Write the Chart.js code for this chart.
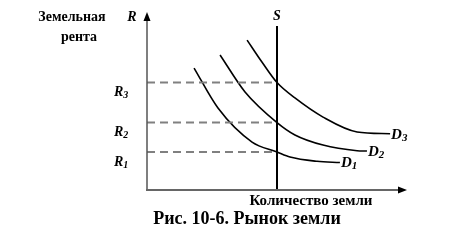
<!DOCTYPE html>
<html>
<head>
<meta charset="utf-8">
<script src="https://cdn.jsdelivr.net/npm/chart.js@4"></script>
<style>
html,body{margin:0;padding:0;background:#fff;}
#wrap{width:468px;height:250px;position:relative;}
</style>
</head>
<body>
<div id="wrap"><canvas id="c" width="468" height="250"></canvas></div>
<script>
// ---- data (arbitrary units: quantity 0..100, rent 0..100) ----
const d1Q = [18.1, 27.3, 40.4, 50.0, 55.0, 65.4, 74.2];
const d1R = [68.9, 46.3, 27.1, 21.5, 18.6, 16.2, 15.5];
const d2Q = [28.1, 37.7, 50.0, 56.9, 67.7, 80.8, 84.6];
const d2R = [76.3, 55.4, 38.1, 31.1, 25.4, 22.2, 22.0];
const d3Q = [38.5, 44.2, 50.0, 56.9, 67.7, 80.8, 93.5];
const d3R = [84.7, 72.3, 60.7, 52.0, 41.2, 32.8, 31.8];
const curveNames = ['D', 'D', 'D'];
const curveSubs = ['1', '2', '3'];
const supplyQ = 50;
const supplyTop = 92.7;
const rentLevels = [21.5, 38.1, 60.7];
const rentSubs = ['1', '2', '3'];
const yAxisTitle = ['Земельная', 'рента'];
const xAxisTitle = 'Количество земли';
const caption = 'Рис. 10-6. Рынок земли';

const pts = (qs, rs) => qs.map((q, i) => ({x: q, y: rs[i]}));
const FONT = "'Liberation Serif', 'Times New Roman', serif";

const datasets = [];
rentLevels.forEach(r => datasets.push({
  data: [{x: 0, y: r}, {x: supplyQ, y: r}],
  borderColor: '#808080', borderWidth: 2, borderDash: [8, 5],
  pointRadius: 0, showLine: true, tension: 0
}));
datasets.push({
  data: [{x: supplyQ, y: 0}, {x: supplyQ, y: supplyTop}],
  borderColor: '#000', borderWidth: 2, pointRadius: 0, showLine: true, tension: 0
});
[[d1Q, d1R], [d2Q, d2R], [d3Q, d3R]].forEach(([q, r]) => datasets.push({
  data: pts(q, r), borderColor: '#000', borderWidth: 1.6, pointRadius: 0,
  showLine: true, cubicInterpolationMode: 'monotone'
}));

function subText(ctx, main, sub, x, y, size) {
  ctx.font = `italic bold ${size}px ${FONT}`;
  ctx.fillText(main, x, y);
  const w = ctx.measureText(main).width;
  ctx.font = `italic bold ${Math.round(size * 0.72)}px ${FONT}`;
  ctx.fillText(sub, x + w, y + 3);
}

const decor = {
  id: 'decor',
  afterDraw(chart) {
    const ctx = chart.ctx;
    const xs = chart.scales.x, ys = chart.scales.y;
    const x0 = xs.getPixelForValue(0), y0 = ys.getPixelForValue(0);
    const xEnd = xs.getPixelForValue(100), yEnd = ys.getPixelForValue(100);
    ctx.save();
    // axes
    ctx.strokeStyle = '#555';
    ctx.lineWidth = 1.5;
    ctx.beginPath(); ctx.moveTo(x0, y0); ctx.lineTo(x0, yEnd + 6); ctx.stroke();
    ctx.lineWidth = 2;
    ctx.strokeStyle = '#666';
    ctx.beginPath(); ctx.moveTo(x0 - 1, y0); ctx.lineTo(xEnd - 6, y0); ctx.stroke();
    ctx.fillStyle = '#000';
    ctx.beginPath(); ctx.moveTo(x0, yEnd - 1); ctx.lineTo(x0 - 3.5, yEnd + 8); ctx.lineTo(x0 + 3.5, yEnd + 8); ctx.closePath(); ctx.fill();
    ctx.beginPath(); ctx.moveTo(xEnd, y0); ctx.lineTo(xEnd - 9, y0 - 3.5); ctx.lineTo(xEnd - 9, y0 + 3.5); ctx.closePath(); ctx.fill();

    ctx.fillStyle = '#000';
    ctx.textBaseline = 'middle';
    // y axis title
    ctx.textAlign = 'center';
    ctx.font = `bold 14px ${FONT}`;
    ctx.fillText(yAxisTitle[0], x0 - 75, yEnd + 4);
    ctx.fillText(yAxisTitle[1], x0 - 68, yEnd + 24);
    ctx.font = `italic bold 14px ${FONT}`;
    ctx.fillText('R', x0 - 15, yEnd + 4);
    // S label
    const sx = xs.getPixelForValue(supplyQ);
    ctx.fillText('S', sx, ys.getPixelForValue(supplyTop) - 10);
    // rent labels
    ctx.textAlign = 'left';
    rentLevels.forEach((r, i) => {
      subText(ctx, 'R', rentSubs[i], x0 - 33, ys.getPixelForValue(r) + 10, 14);
    });
    // curve labels
    [[d1Q, d1R], [d2Q, d2R], [d3Q, d3R]].forEach(([q, r], i) => {
      const n = q.length - 1;
      subText(ctx, curveNames[i], curveSubs[i], xs.getPixelForValue(q[n]) + 1, ys.getPixelForValue(r[n]) + 1, 15);
    });
    // x axis title and caption
    ctx.textAlign = 'center';
    ctx.font = `bold 15px ${FONT}`;
    ctx.fillText(xAxisTitle, 311, y0 + 11);
    ctx.font = `bold 18px ${FONT}`;
    ctx.fillText(caption, 247, y0 + 29);
    ctx.restore();
  }
};

new Chart(document.getElementById('c'), {
  type: 'scatter',
  data: {datasets},
  options: {
    responsive: false,
    animation: false,
    layout: {padding: {left: 147, right: 61, top: 13, bottom: 60}},
    plugins: {legend: {display: false}, tooltip: {enabled: false}},
    scales: {
      x: {type: 'linear', min: 0, max: 100, display: false},
      y: {type: 'linear', min: 0, max: 100, display: false}
    }
  },
  plugins: [decor]
});
</script>
</body>
</html>
